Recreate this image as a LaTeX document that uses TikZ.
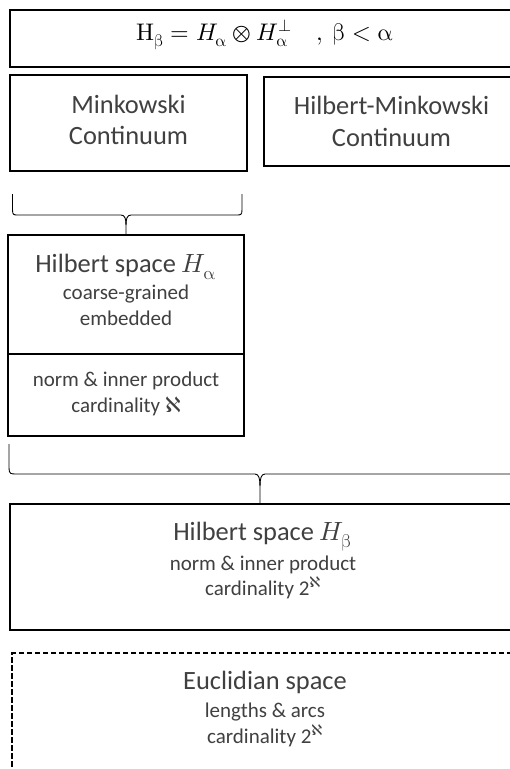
\documentclass[tikz,border=0pt]{standalone}
\usepackage{fontspec}
\usepackage{unicode-math}
\setmainfont{Carlito}
\setmathfont{Latin Modern Math}
\newfontfamily\alephfont{DejaVu Sans}
\newcommand{\myaleph}{{\alephfont ℵ}}
\usetikzlibrary{calc}
\definecolor{txt}{HTML}{404040}
\tikzset{
  box/.style={draw=black, line width=1.5pt, rectangle, inner sep=0pt, outer sep=0pt, anchor=north west},
  big/.style={font=\fontsize{26.4}{32}\selectfont, text=txt, anchor=base, inner sep=0pt},
  small/.style={font=\fontsize{21}{25}\selectfont, text=txt, anchor=base, inner sep=0pt},
  bracepath/.style={draw=black, line width=0.9pt},
}
\begin{document}
\begin{tikzpicture}[x=1pt,y=-1pt]
\fill[white] (0,0) rectangle (510,769);
\clip (0,0) rectangle (510,769);
% boxes
\node[box, line width=2pt, minimum width=510pt, minimum height=57pt] (top) at (10,10) {};
\node[box, line width=1.3pt, minimum width=237pt, minimum height=96pt] (mink) at (10,75) {};
\node[box, line width=1.3pt, minimum width=256pt, minimum height=89pt] (hm) at (264,77) {};
\node[box, minimum width=236pt, minimum height=201pt] (ha) at (8,235) {};
\draw[line width=1.5pt] ($(ha.north west)+(0,119)$) -- ($(ha.north east)+(0,119)$);
\node[box, minimum width=510pt, minimum height=126pt] (hb) at (10,504) {};
\node[box, dash pattern=on 5.5pt off 2.5pt, minimum width=508pt, minimum height=140pt] (eu) at (12,653) {};
% texts
\node[big, font=\fontsize{24}{30}\selectfont, text=black] (eq) at (265,40.7) {$\symup{H}_{\symup{\beta}} = H_{\symup{\alpha}} \otimes H^{\perp}_{\symup{\alpha}}\quad,\ \symup{\beta} < \symup{\alpha}$};
\node[big] (mink1) at (128.5,113.3) {Minkowski};
\node[big] (mink2) at (128.5,144) {Continuum};
\node[big] (hm1) at (391.5,114) {Hilbert-Minkowski};
\node[big] (hm2) at (391.5,146.7) {Continuum};
\node[big] (ha1) at (126,272.7) {Hilbert space $H_{\symup{\alpha}}$};
\node[small] (ha2) at (126,299.3) {coarse-grained};
\node[small] (ha3) at (126,325) {embedded};
\node[small] (ha4) at (126,386.7) {norm \& inner product};
\node[small] (ha5) at (126,412.3) {cardinality \myaleph};
\node[big] (hb1) at (263,540.7) {Hilbert space $H_{\symup{\beta}}$};
\node[small] (hb2) at (263,570) {norm \& inner product};
\node[small] (hb3) at (263,595) {cardinality 2\textsuperscript{\myaleph}};
\node[big] (eu1) at (265,689.3) {Euclidian space};
\node[small] (eu2) at (265,717.3) {lengths \& arcs};
\node[small] (eu3) at (265,743.3) {cardinality 2\textsuperscript{\myaleph}};
% brace 1: Minkowski -> H_alpha
\coordinate (b1l) at ($(mink.south west)+(2.5,23)$);
\coordinate (b1r) at ($(mink.south east)+(-5,23)$);
\coordinate (b1t) at ($(ha.north)+(0,-10)$);
\draw[bracepath] (b1l) -- ++(0,16) .. controls ++(0,5) and ++(-4,0) .. ++(5.5,5)
  -- ($(b1t)+(-5,-10)$) .. controls ++(4,0) and ++(0,-6) .. (b1t) -- (ha.north);
\draw[bracepath] (b1r) -- ++(0,16) .. controls ++(0,5) and ++(4,0) .. ++(-5.5,5)
  -- ($(b1t)+(5,-10)$) .. controls ++(-4,0) and ++(0,-6) .. (b1t);
% brace 2: H_alpha -> H_beta
\coordinate (b2tip) at ($(hb.north west)+(250,0)$);
\coordinate (b2l) at ($(ha.south west)+(1,8)$);
\coordinate (b2t) at ($(b2tip)+(0,-18)$);
\draw[bracepath] (b2l) -- ++(0,24) .. controls ++(0,6) and ++(-5,0) .. ++(7,6)
  -- ($(b2t)+(-5,-12)$) .. controls ++(4,0) and ++(0,-7) .. (b2t) -- (b2tip);
\draw[bracepath] (530,474) -- ($(b2t)+(5,-12)$) .. controls ++(-4,0) and ++(0,-7) .. (b2t);
\end{tikzpicture}
\end{document}
